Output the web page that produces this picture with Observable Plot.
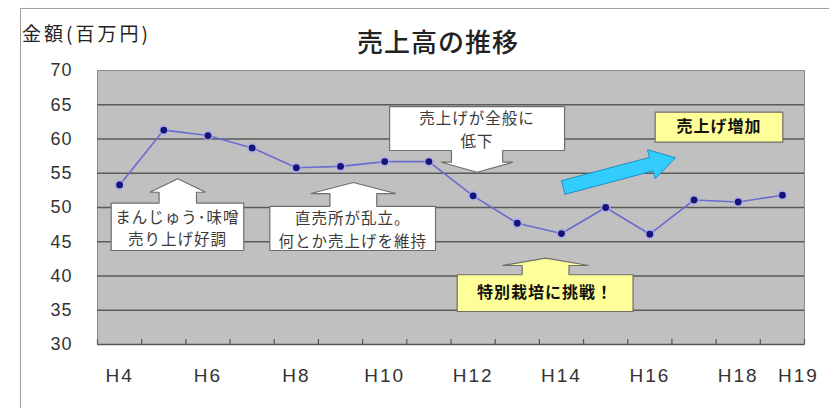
<!DOCTYPE html>
<html>
<head>
<meta charset="utf-8">
<script src="https://cdn.jsdelivr.net/npm/d3@7"></script>
<script src="https://cdn.jsdelivr.net/npm/@observablehq/plot@0.6"></script>
<style>
  html, body { margin: 0; padding: 0; background: #fff; overflow: hidden; }
  #wrap { position: relative; width: 829px; height: 408px; overflow: hidden; }
  #border { position: absolute; left: 20px; top: 8px; width: 900px; height: 500px; border: 1px solid #a0a0a0; box-shadow: 1px 1px 2px #ccc; pointer-events: none; z-index: 2; }
  #title { position: absolute; left: 0; width: 876px; top: 22px; text-align: center; font-family: "Noto Sans CJK JP", sans-serif; font-size: 26px; font-weight: 500; color: #222; z-index: 3; letter-spacing: 1px; }
  #ylabel { position: absolute; left: 22px; top: 19px; font-family: "Noto Sans CJK JP", sans-serif; font-size: 19px; color: #222; letter-spacing: 3px; z-index: 3; }
  #chart { position: absolute; left: 0; top: 0; }
  g[aria-label="x-axis tick label"] text { letter-spacing: 2px; }
  g[aria-label="y-axis tick label"] text { letter-spacing: 1px; }
  g[aria-label="text"] text { letter-spacing: 1px; }
</style>
</head>
<body>
<div id="wrap">
  <div id="chart"></div>
  <div id="border"></div>
  <div id="title">売上高の推移</div>
  <div id="ylabel">金額(百万円)</div>
</div>
<script>
// ---- data ----
const categories = ["H4","H5","H6","H7","H8","H9","H10","H11","H12","H13","H14","H15","H16","H17","H18","H19"];
const sales = [53.3, 61.3, 60.5, 58.7, 55.8, 56.0, 56.7, 56.7, 51.7, 47.7, 46.2, 50.0, 46.1, 51.1, 50.8, 51.8];
const yTicks = [30, 35, 40, 45, 50, 55, 60, 65, 70];
const xTickLabels = ["H4","H6","H8","H10","H12","H14","H16","H18","H19"];

// annotations (data coordinates: x = category index, y = value)
const callouts = [
  {text: "まんじゅう･味噌\n売り上げ好調", fill: "white", bold: false, x0: -0.19, x1: 2.81, y0: 43.72, y1: 50.63, dir: "up", cx: 1.317, headBase: 52.23, tip: 54.19, headHalf: 0.633, shaftHalf: 0.423},
  {text: "直売所が乱立。\n何とか売上げを維持", fill: "white", bold: false, x0: 3.40, x1: 7.15, y0: 43.72, y1: 50.15, dir: "up", cx: 5.29, headBase: 52.04, tip: 53.65, headHalf: 0.96, shaftHalf: 0.53},
  {text: "売上げが全般に\n低下", fill: "white", bold: false, x0: 6.11, x1: 10.07, y0: 58.32, y1: 64.74, dir: "down", cx: 8.09, headBase: 56.61, tip: 55.15, headHalf: 0.81, shaftHalf: 0.58},
  {text: "特別栽培に挑戦！", fill: "#ffff99", bold: true, x0: 7.64, x1: 11.62, y0: 34.82, y1: 40.18, dir: "up", cx: 9.64, headBase: 41.53, tip: 42.6, headHalf: 0.98, shaftHalf: 0.53},
  {text: "売上げ増加", fill: "#ffff99", bold: true, x0: 12.12, x1: 15.01, y0: 59.53, y1: 63.91, dir: null}
];
const trendArrow = {tail: [10.04, 52.92], tip: [12.58, 57.26], shaftPx: 14, headWidthPx: 30, headLengthPx: 25};

// ---- layout ----
const W = 829, H = 408, ML = 97, MR = 25, MT = 70, MB = 64;
const xDomain = [-0.5, categories.length - 0.5];
const yDomain = [30, 70];
const pxPerX = (W - ML - MR) / (xDomain[1] - xDomain[0]);
const pxPerY = (H - MT - MB) / (yDomain[1] - yDomain[0]);

const rows = categories.map((c, i) => ({i, c, v: sales[i]}));
const boundaries = d3.range(categories.length + 1).map(i => i - 0.5);

function calloutShape(d, id) {
  const near = d.dir === "down" ? d.y0 : d.y1;
  const far = d.dir === "down" ? d.y1 : d.y0;
  let pts;
  if (!d.dir) {
    pts = [[d.x0, d.y0], [d.x1, d.y0], [d.x1, d.y1], [d.x0, d.y1], [d.x0, d.y0]];
  } else {
    pts = [[d.x0, far], [d.x1, far], [d.x1, near],
      [d.cx + d.shaftHalf, near], [d.cx + d.shaftHalf, d.headBase], [d.cx + d.headHalf, d.headBase],
      [d.cx, d.tip],
      [d.cx - d.headHalf, d.headBase], [d.cx - d.shaftHalf, d.headBase], [d.cx - d.shaftHalf, near],
      [d.x0, near], [d.x0, far]];
  }
  return pts.map(([x, y]) => ({x, y, id}));
}

function blockArrow(a) {
  const toPx = ([x, y]) => [x * pxPerX, -y * pxPerY];
  const toData = ([X, Y]) => ({x: X / pxPerX, y: -Y / pxPerY});
  const [tx, ty] = toPx(a.tail), [hx, hy] = toPx(a.tip);
  const len = Math.hypot(hx - tx, hy - ty);
  const ux = (hx - tx) / len, uy = (hy - ty) / len;
  const nx = -uy, ny = ux;
  const bx = hx - ux * a.headLengthPx, by = hy - uy * a.headLengthPx;
  const s = a.shaftPx / 2, h = a.headWidthPx / 2;
  const pts = [
    [tx + nx * s, ty + ny * s], [bx + nx * s, by + ny * s], [bx + nx * h, by + ny * h],
    [hx, hy],
    [bx - nx * h, by - ny * h], [bx - nx * s, by - ny * s], [tx - nx * s, ty - ny * s],
    [tx + nx * s, ty + ny * s]
  ];
  return pts.map(toData);
}

const calloutMarks = callouts.map((d, k) =>
  Plot.line(calloutShape(d, k), {x: "x", y: "y", fill: d.fill, stroke: "#6e6e6e", strokeWidth: 1.2, strokeLinejoin: "miter"})
);

const plot = Plot.plot({
  width: W, height: H,
  marginLeft: ML, marginRight: MR, marginTop: MT, marginBottom: MB,
  style: {background: "transparent", fontFamily: "'Liberation Sans', Arial, sans-serif", overflow: "visible"},
  x: {type: "linear", domain: xDomain, axis: null},
  y: {type: "linear", domain: yDomain, axis: null},
  marks: [
    Plot.frame({fill: "#c0c0c0", stroke: "#8c8c8c"}),
    Plot.ruleY(yTicks.filter(t => t > yDomain[0] && t < yDomain[1]), {stroke: "#5a5a5a", strokeWidth: 1.6}),
    Plot.ruleX(boundaries, {y1: yDomain[0], y2: yDomain[0] + 5 / pxPerY, stroke: "#555", strokeWidth: 1.2}),
    Plot.ruleY([yDomain[0]], {stroke: "#555", strokeWidth: 1.6}),
    Plot.axisX(xTickLabels.slice(0, -1).map(l => categories.indexOf(l)), {
      tickSize: 0, tickPadding: 24, tickFormat: i => categories[i], fontSize: 19, fill: "#333", label: null}),
    Plot.axisX(xTickLabels.slice(-1).map(l => categories.indexOf(l)), {
      tickSize: 0, tickPadding: 24, tickFormat: i => categories[i], fontSize: 19, fill: "#333", dx: 16, label: null}),
    Plot.axisY(yTicks, {tickSize: 0, tickPadding: 25, fontSize: 18, fill: "#333", label: null}),
    Plot.line(rows, {x: "i", y: "v", stroke: "#6a6ad0", strokeWidth: 1.6}),
    Plot.dot(rows, {x: "i", y: "v", r: 5.5, fill: "#a8a8f0", fillOpacity: 0.55, stroke: "none"}),
    Plot.dot(rows, {x: "i", y: "v", r: 3.4, fill: "#14147a", stroke: "none"}),
    ...calloutMarks,
    Plot.line(blockArrow(trendArrow), {x: "x", y: "y", fill: "#33ccff", stroke: "#1f8fc4", strokeWidth: 1, strokeLinejoin: "miter"}),
    Plot.text(callouts.filter(d => !d.bold), {
      x: d => (d.x0 + d.x1) / 2, y: d => (d.y0 + d.y1) / 2, text: "text",
      fontSize: 15.5, lineHeight: 1.45, fill: "#3a3a3a", fontFamily: "'Noto Sans CJK JP', sans-serif"}),
    Plot.text(callouts.filter(d => d.bold), {
      x: d => (d.x0 + d.x1) / 2, y: d => (d.y0 + d.y1) / 2, text: "text",
      fontSize: 16, fontWeight: "bold", fill: "#111", fontFamily: "'Noto Sans CJK JP', sans-serif"})
  ]
});
document.getElementById("chart").appendChild(plot);
</script>
</body>
</html>
